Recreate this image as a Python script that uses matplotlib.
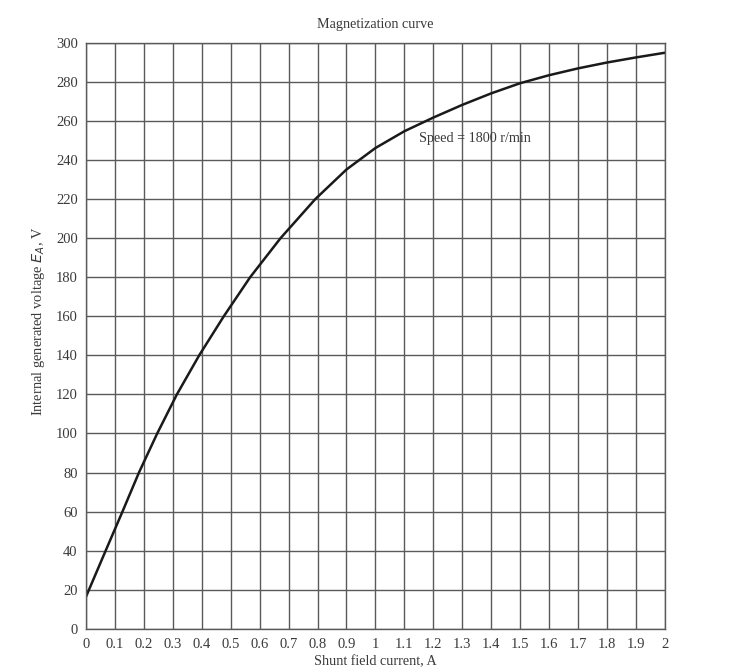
import matplotlib
matplotlib.use("Agg")
import matplotlib.pyplot as plt
import numpy as np

plt.rcParams["font.family"] = ["Liberation Serif", "DejaVu Serif"]

# Magnetization curve (A, V)
field_current = [0.0, 0.068, 0.126, 0.183, 0.246, 0.314, 0.391, 0.476, 0.567, 0.672,
                 0.792, 0.9, 1.0, 1.1, 1.2, 1.3, 1.4, 1.5, 1.6, 1.7, 1.8, 1.9, 2.0]
voltage = [16.4, 40, 60, 80, 100, 120, 140, 160, 180, 200,
           220, 235.2, 246.2, 254.8, 261.8, 268.3, 274.2, 279.4, 283.5, 287, 290, 292.6, 295]

x_ticks = np.round(np.arange(0, 2.01, 0.1), 1)
x_tick_labels = ["0", "0.1", "0.2", "0.3", "0.4", "0.5", "0.6", "0.7", "0.8", "0.9", "1",
                 "1.1", "1.2", "1.3", "1.4", "1.5", "1.6", "1.7", "1.8", "1.9", "2"]
y_ticks = np.arange(0, 301, 20)

text_color = "#3a3a3a"
grid_color = "#5a5a5a"

fig = plt.figure(figsize=(7.37, 6.72), dpi=100)
ax = fig.add_axes([0.1167, 0.0644, 0.7853, 0.8716])

ax.plot(field_current, voltage, color="#1a1a1a", linewidth=1.8, solid_joinstyle="round")

ax.set_xlim(0, 2)
ax.set_ylim(0, 300)
ax.set_xticks(x_ticks)
ax.set_xticklabels(x_tick_labels)
ax.set_yticks(y_ticks)
ax.tick_params(length=0, labelsize=10.5, colors=text_color)
ax.tick_params(axis="x", pad=7)
ax.tick_params(axis="y", pad=6)
ax.grid(True, color=grid_color, linewidth=1.0)
ax.set_axisbelow(True)
for spine in ax.spines.values():
    spine.set_color(grid_color)
    spine.set_linewidth(1.0)

ax.set_title("Magnetization curve", fontsize=10.2, color=text_color, pad=11)
ax.set_xlabel("Shunt field current, A", fontsize=10.2, color=text_color, labelpad=3)
ax.set_ylabel("Internal generated voltage $E_A$, V", fontsize=10.4, color=text_color)
ax.yaxis.set_label_coords(-0.068, 0.525)
ax.text(1.15, 251, "Speed = 1800 r/min", fontsize=10.2, color=text_color, va="center", ha="left")

fig.savefig("out.png", dpi=100)
